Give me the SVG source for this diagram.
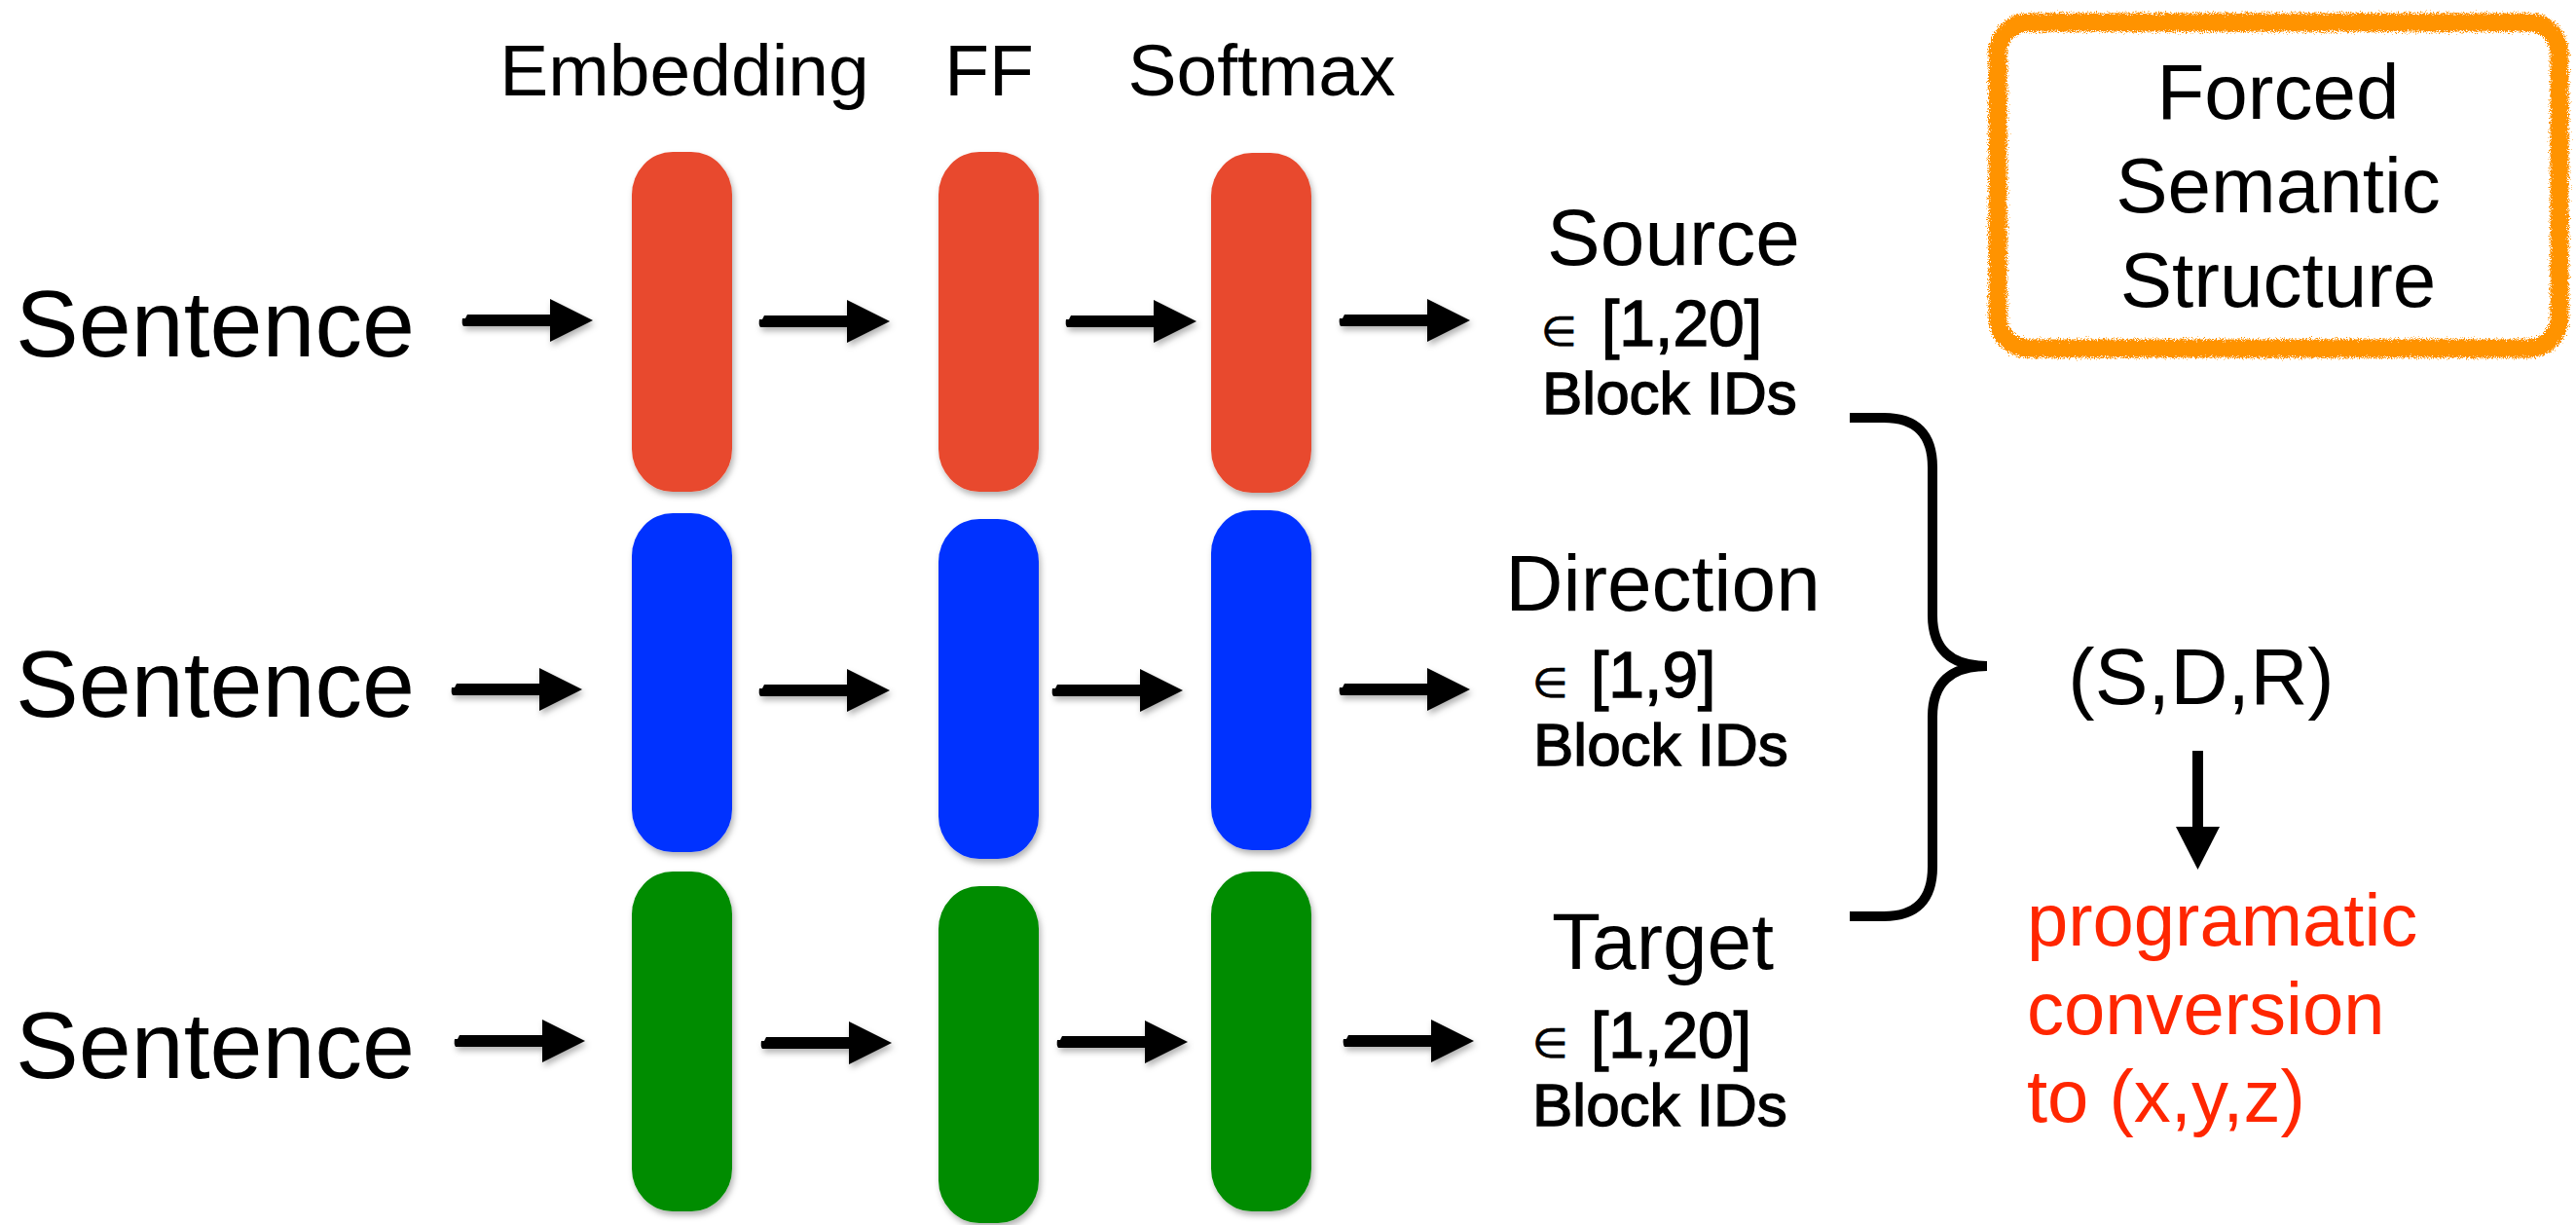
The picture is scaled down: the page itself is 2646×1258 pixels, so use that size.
<svg xmlns="http://www.w3.org/2000/svg" xmlns:xlink="http://www.w3.org/1999/xlink" width="2646" height="1258" viewBox="0 0 2646 1258">
<defs>
<style>
.lbl{font-family:"Liberation Sans",Arial,Helvetica,sans-serif;fill:#000;}
.hdr{font-size:75px;text-anchor:middle;}
.sen{font-size:97px;text-anchor:middle;}
.out{font-size:82px;text-anchor:middle;}
.box{font-size:80px;text-anchor:middle;}
.ids{font-family:"Liberation Sans",Arial,sans-serif;fill:#000;stroke:#000;stroke-width:1.4px;}
.rng{font-size:66px;}
.blk{font-size:62px;}
.el{font-family:"DejaVu Sans",sans-serif;font-size:42px;stroke-width:0.6px;}
.red{font-family:"Liberation Sans",Arial,Helvetica,sans-serif;font-size:76px;fill:#FF2600;}
.r{fill:#E84A2F;}
.b{fill:#0433FF;}
.g{fill:#038C03;}
</style>
<filter id="shadow" x="-30%" y="-10%" width="160%" height="130%">
<feDropShadow dx="2" dy="4" stdDeviation="3" flood-color="#000" flood-opacity="0.3"/>
</filter>
<filter id="rough" x="-5%" y="-5%" width="110%" height="110%">
<feTurbulence type="fractalNoise" baseFrequency="0.9" numOctaves="3" seed="5" result="n"/>
<feDisplacementMap in="SourceGraphic" in2="n" scale="10" xChannelSelector="R" yChannelSelector="G"/>
</filter>
<path id="arr" d="M0,-2 L3,-2 L5,-6 L90,-6 L90,-22 L134,0 L90,22 L90,6 L1,6 Q-1,3 0,-2 Z" fill="#000"/>
</defs>
<rect width="2646" height="1258" fill="#fff"/>

<g id="headers" class="lbl hdr">
<text x="703" y="98">Embedding</text>
<text x="1016" y="98">FF</text>
<text x="1296" y="98">Softmax</text>
</g>

<g id="sentence-1" class="lbl sen"><text x="221" y="366">Sentence</text></g>
<g id="sentence-2" class="lbl sen"><text x="221" y="736">Sentence</text></g>
<g id="sentence-3" class="lbl sen"><text x="221" y="1107">Sentence</text></g>

<g id="blocks" filter="url(#shadow)">
<g id="emb-source"><rect class="r" x="649" y="156" width="103" height="349" rx="42" ry="44"/></g>
<g id="ff-source"><rect class="r" x="964" y="156" width="103" height="349" rx="42" ry="44"/></g>
<g id="softmax-source"><rect class="r" x="1244" y="157" width="103" height="349" rx="42" ry="44"/></g>
<g id="emb-direction"><rect class="b" x="649" y="527" width="103" height="348" rx="42" ry="44"/></g>
<g id="ff-direction"><rect class="b" x="964" y="533" width="103" height="349" rx="42" ry="44"/></g>
<g id="softmax-direction"><rect class="b" x="1244" y="524" width="103" height="349" rx="42" ry="44"/></g>
<g id="emb-target"><rect class="g" x="649" y="895" width="103" height="349" rx="42" ry="44"/></g>
<g id="ff-target"><rect class="g" x="964" y="910" width="103" height="346" rx="42" ry="44"/></g>
<g id="softmax-target"><rect class="g" x="1244" y="895" width="103" height="349" rx="42" ry="44"/></g>
</g>

<g id="connectors">
<g filter="url(#shadow)">
<use xlink:href="#arr" href="#arr" x="475" y="329"/>
<use xlink:href="#arr" href="#arr" x="780" y="330"/>
<use xlink:href="#arr" href="#arr" x="1095" y="330"/>
<use xlink:href="#arr" href="#arr" x="1376" y="329"/>
<use xlink:href="#arr" href="#arr" x="464" y="708"/>
<use xlink:href="#arr" href="#arr" x="780" y="709"/>
<use xlink:href="#arr" href="#arr" x="1081" y="709"/>
<use xlink:href="#arr" href="#arr" x="1376" y="708"/>
<use xlink:href="#arr" href="#arr" x="467" y="1069"/>
<use xlink:href="#arr" href="#arr" x="782" y="1071"/>
<use xlink:href="#arr" href="#arr" x="1086" y="1070"/>
<use xlink:href="#arr" href="#arr" x="1380" y="1069"/>
</g>
<path id="brace" d="M1900,429 L1935,429 Q1985,429 1985,480 L1985,632 Q1985,684 2041,684 Q1985,684 1985,736 L1985,890 Q1985,941 1935,941 L1900,941" fill="none" stroke="#000" stroke-width="10"/>
<g id="down-arrow">
<rect x="2252" y="771" width="11" height="80" fill="#000"/>
<polygon points="2235,849 2280,849 2257.5,893" fill="#000"/>
</g>
</g>

<g id="out-source">
<text class="lbl out" x="1719" y="272">Source</text>
<text class="ids rng" y="355"><tspan class="el" x="1583">∈ </tspan><tspan x="1645">[1,20]</tspan></text>
<text class="ids blk" x="1584" y="425">Block IDs</text>
</g>
<g id="out-direction">
<text class="lbl out" x="1708" y="627">Direction</text>
<text class="ids rng" y="716"><tspan class="el" x="1574">∈ </tspan><tspan x="1634">[1,9]</tspan></text>
<text class="ids blk" x="1575" y="786">Block IDs</text>
</g>
<g id="out-target">
<text class="lbl out" x="1708" y="995">Target</text>
<text class="ids rng" y="1086"><tspan class="el" x="1574">∈ </tspan><tspan x="1634">[1,20]</tspan></text>
<text class="ids blk" x="1574" y="1156">Block IDs</text>
</g>

<g id="forced-box">
<rect x="2052" y="23" width="577" height="335" rx="32" fill="none" stroke="#FF9300" stroke-width="19" filter="url(#rough)"/>
<text class="lbl box" x="2340" y="122">Forced</text>
<text class="lbl box" x="2340" y="218">Semantic</text>
<text class="lbl box" x="2340" y="315">Structure</text>
</g>

<g id="sdr"><text class="lbl out" x="2261" y="723">(S,D,R)</text></g>

<g id="conversion">
<text class="red" x="2082" y="971">programatic</text>
<text class="red" x="2082" y="1062">conversion</text>
<text class="red" x="2082" y="1152">to (x,y,z)</text>
</g>
</svg>
